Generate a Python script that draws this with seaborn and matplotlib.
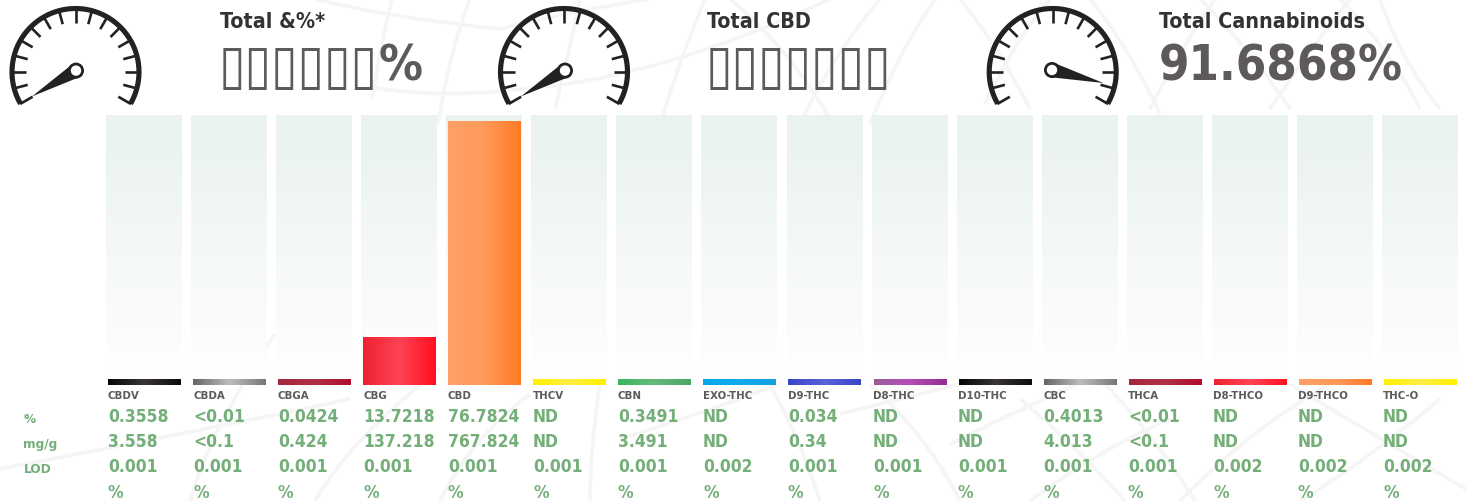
import numpy as np
import pandas as pd
import matplotlib
matplotlib.use("Agg")
import matplotlib.pyplot as plt
from matplotlib.path import Path
from matplotlib.patches import PathPatch, Circle, Polygon
from matplotlib.colors import LinearSegmentedColormap
import seaborn as sns

# ---- data ----
categories = ["CBDV", "CBDA", "CBGA", "CBG", "CBD", "THCV", "CBN", "EXO-THC",
              "D9-THC", "D8-THC", "D10-THC", "CBC", "THCA", "D8-THCO", "D9-THCO", "THC-O"]
percent_values = [0.3558, 0.01, 0.0424, 13.7218, 76.7824, 0, 0.3491, 0, 0.034, 0, 0, 0.4013, 0.01, 0, 0, 0]
percent_labels = ["0.3558", "<0.01", "0.0424", "13.7218", "76.7824", "ND", "0.3491", "ND",
                  "0.034", "ND", "ND", "0.4013", "<0.01", "ND", "ND", "ND"]
mgg_labels = ["3.558", "<0.1", "0.424", "137.218", "767.824", "ND", "3.491", "ND",
              "0.34", "ND", "ND", "4.013", "<0.1", "ND", "ND", "ND"]
lod_labels = ["0.001", "0.001", "0.001", "0.001", "0.001", "0.001", "0.001", "0.002",
              "0.001", "0.001", "0.001", "0.001", "0.001", "0.002", "0.002", "0.002"]
lod_units = ["%"] * 16
row_names = ["%", "mg/g", "LOD"]
gradient_palette = [("#060606", "#3a3538", "#0c0c0c"), ("#666666", "#bdbdbd", "#777777"),
                    ("#a6263f", "#b0304a", "#ac0d2c"), ("#ee2030", "#ff4455", "#ff0f20"),
                    ("#ff9f68", "#ff9a5a", "#ff7a25"), ("#fff000", "#ffee44", "#fff000"),
                    ("#3cb660", "#66bb7a", "#4aa562"), ("#00a8ec", "#10acec", "#10a0e0"),
                    ("#3a46c8", "#5a62d8", "#3a44c8"), ("#96609a", "#b84cb8", "#922d90")]
summary_titles = ["Total &%*", "Total CBD", "Total Cannabinoids"]
summary_boxes = ["\u25af" * 6, "\u25af" * 7, ""]
summary_values = ["%", "", "91.6868%"]
needle_angles = [210.4, 210.4, -14.2]
SCALE_MAX = 79.0       # value reached by the top of a track
MIN_STRIP = 1.46       # every analyte keeps a thin coloured strip

W, H = 1466, 502
GREEN, GREY, DARK = "#74ae78", "#5f5a5a", "#333333"
sns.set_style("white")
plt.rcParams["font.family"] = ["DejaVu Sans"]
plt.rcParams["font.stretch"] = "condensed"

fig = plt.figure(figsize=(W / 100, H / 100), dpi=100, facecolor="white")

# ---- full-figure pixel layer (behind) ----
bg = fig.add_axes([0, 0, 1, 1], zorder=0)
bg.set_xlim(0, W); bg.set_ylim(H, 0); bg.axis("off")
watermark = [((315, 0), (385, 18), (500, 30)), ((500, 30), (570, 12), (650, 0)),
             ((392, 0), (382, 40), (372, 100)), ((470, 0), (450, 50), (438, 125)),
             ((370, 88), (440, 100), (520, 90)), ((520, 90), (660, 80), (830, 0)),
             ((580, 0), (570, 50), (555, 110)), ((660, 125), (680, 60), (705, 0)),
             ((800, 125), (830, 60), (880, 0)), ((870, 125), (900, 50), (935, 0)),
             ((730, 0), (790, 50), (830, 120)), ((960, 0), (1000, 50), (1030, 110)),
             ((985, 105), (1015, 40), (1050, 0)), ((1090, 0), (1130, 50), (1160, 115)),
             ((1150, 110), (1180, 50), (1215, 0)), ((1200, 0), (1250, 50), (1290, 110)),
             ((1270, 110), (1310, 50), (1350, 0)), ((1340, 0), (1390, 50), (1420, 110)),
             ((1380, 0), (1400, 60), (1440, 110)),
             ((190, 502), (210, 430), (275, 335)), ((315, 502), (350, 440), (440, 370)),
             ((440, 502), (470, 440), (530, 395)), ((0, 470), (260, 420), (350, 400)),
             ((590, 502), (590, 450), (600, 385)), ((770, 385), (800, 440), (820, 502)),
             ((620, 440), (700, 415), (780, 385)), ((840, 415), (900, 400), (960, 385)),
             ((870, 385), (930, 440), (960, 502)), ((1020, 400), (1080, 450), (1125, 502)),
             ((1100, 380), (1150, 430), (1195, 502)), ((950, 445), (1020, 410), (1100, 375)),
             ((1180, 502), (1250, 430), (1330, 385)), ((1290, 385), (1380, 440), (1466, 490)),
             ((1030, 502), (1100, 450), (1170, 420)), ((1300, 502), (1370, 460), (1440, 400))]
for p0, c, p1 in watermark:
    bg.add_patch(PathPatch(Path([p0, c, p1], [Path.MOVETO, Path.CURVE3, Path.CURVE3]),
                           fc="none", ec="#f5f5f5", lw=2.6))

# ---- bars ----
ax = fig.add_axes([101.5 / W, 1 - 386.2 / H, 1361 / W, 270.7 / H], zorder=1)
ax.patch.set_alpha(0)
df = pd.DataFrame({"analyte": categories, "percent": percent_values})
df["shown"] = np.maximum(df["percent"], MIN_STRIP)
df["track"] = SCALE_MAX
sns.barplot(df, x="analyte", y="track", ax=ax, width=0.893, color="white", order=categories)
n_track = len(ax.patches)
sns.barplot(df, x="analyte", y="shown", ax=ax, width=0.848, color="white", order=categories)
ax.set_xlim(-0.5, len(categories) - 0.5)
ax.set_ylim(0, SCALE_MAX)
ax.axis("off")
track_cmap = LinearSegmentedColormap.from_list("track", ["#e9f2ed", "#ffffff"])
for i, patch in enumerate(ax.patches):
    x0, w, h = patch.get_x(), patch.get_width(), patch.get_height()
    patch.set_visible(False)
    if i < n_track:
        im, cmap = np.linspace(0, 1, 256)[:, None], track_cmap
        z = 2
    else:
        colours = gradient_palette[(i - n_track) % len(gradient_palette)]
        cmap = LinearSegmentedColormap.from_list(f"g{i}", colours)
        im, z = np.linspace(0, 1, 128)[None, :], 3
    ax.imshow(im, extent=(x0, x0 + w, 0, h), origin="upper", aspect="auto", cmap=cmap,
              vmin=0, vmax=1, zorder=z, interpolation="bilinear")
ax.set_xlim(-0.5, len(categories) - 0.5)
ax.set_ylim(0, SCALE_MAX)

# ---- pixel layer on top: gauges and text ----
fg = fig.add_axes([0, 0, 1, 1], zorder=2)
fg.set_xlim(0, W); fg.set_ylim(H, 0); fg.axis("off"); fg.patch.set_alpha(0)

def gauge(cx, cy, hub_x, hub_y, angle, length):
    a = np.radians(np.linspace(210, -30, 200))
    fg.plot(cx + 63.5 * np.cos(a), cy - 63.5 * np.sin(a), color="#222222", lw=3.7, solid_capstyle="butt")
    for t in np.arange(210, -31, -15):
        r = np.radians(t)
        fg.plot([cx + 49.5 * np.cos(r), cx + 64 * np.cos(r)], [cy - 49.5 * np.sin(r), cy - 64 * np.sin(r)],
                color="#222222", lw=1.9, solid_capstyle="butt")
    r = np.radians(angle)
    tip = (hub_x + length * np.cos(r), hub_y - length * np.sin(r))
    nx, ny = np.sin(r) * 7.4, np.cos(r) * 7.4
    fg.add_patch(Polygon([(hub_x + nx, hub_y + ny), tip, (hub_x - nx, hub_y - ny)], fc="#222222", ec="none"))
    fg.add_patch(Circle((hub_x, hub_y), 8.0, fc="#222222", ec="none"))
    fg.add_patch(Circle((hub_x, hub_y), 5.2, fc="white", ec="none"))

gauge(75.5, 73, 76, 71.6, needle_angles[0], 51)
gauge(564, 73, 565, 71.6, needle_angles[1], 51)
gauge(1052.7, 73, 1052, 71, needle_angles[2], 53)

for x, title, boxes, value in zip([219.5, 707, 1159], summary_titles, summary_boxes, summary_values):
    fg.text(x, 28, title, fontsize=15.4, fontweight="bold", color=DARK, va="baseline", ha="left")
    if boxes:
        fg.text(x - 1, 82.7, boxes, fontsize=38.6, fontweight="normal", color=GREY, va="baseline", ha="left")
    if value:
        fg.text(x + 26.6 * len(boxes), 80.5, value, fontsize=35.2, fontweight="bold",
                color=GREY, va="baseline", ha="left")

STEP = 85.0
for i, name in enumerate(categories):
    x = 108 + STEP * i
    fg.text(x, 399.3, name, fontsize=8.2, fontweight="bold", color=GREY, va="baseline", ha="left")
    for y, col in zip([422.5, 447.5, 472.5, 498], [percent_labels, mgg_labels, lod_labels, lod_units]):
        fg.text(x, y, col[i], fontsize=12.5, fontweight="bold", color=GREEN, va="baseline", ha="left")
for y, name in zip([423.2, 448.2, 473.2], row_names):
    fg.text(23.5, y, name, fontsize=9.7, fontweight="bold", color=GREEN, va="baseline", ha="left")

fig.savefig("out.png", dpi=100, facecolor="white")
